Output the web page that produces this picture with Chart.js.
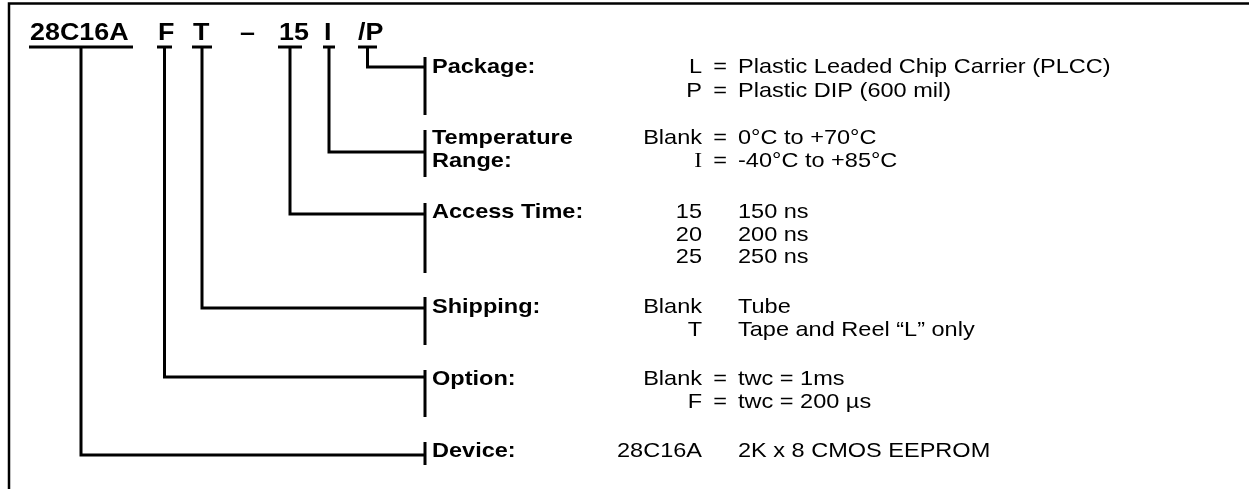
<!DOCTYPE html>
<html>
<head>
<meta charset="utf-8">
<script src="https://cdn.jsdelivr.net/npm/chart.js@4/dist/chart.umd.min.js"></script>
<style>
  html, body { margin: 0; padding: 0; background: #fff; }
  #wrap { width: 1249px; height: 489px; position: relative; }
</style>
</head>
<body>
<div id="wrap"><canvas id="diagram"></canvas></div>
<script>
// part number pieces, left to right
const partCodes = ['28C16A', 'F', 'T', '–', '15', 'I', '/P'];

// fields, top to bottom
const fieldLabels = [['Package:'], ['Temperature', 'Range:'], ['Access Time:'], ['Shipping:'], ['Option:'], ['Device:']];
const fieldCode = ['/P', 'I', '15', 'T', 'F', '28C16A'];

// choices per field
const optionKeys = [['L', 'P'], ['Blank', 'I'], ['15', '20', '25'], ['Blank', 'T'], ['Blank', 'F'], ['28C16A']];
const optionUsesEquals = [true, true, false, false, true, false];
const optionText = [
    ['Plastic Leaded Chip Carrier (PLCC)', 'Plastic DIP (600 mil)'],
    ['0°C to +70°C', '-40°C to +85°C'],
    ['150 ns', '200 ns', '250 ns'],
    ['Tube', 'Tape and Reel “L” only'],
    ['twc = 1ms', 'twc = 200 µs'],
    ['2K x 8 CMOS EEPROM']
];

// ---- layout (diagram units = pixels) ----
const W = 1249, H = 489;
const codeX = { '28C16A': 30, 'F': 158, 'T': 193, '–': 240, '15': 279, 'I': 324, '/P': 358 };
const codeBaseline = 40;
const underline = { '28C16A': [29, 133], 'F': [157, 172], 'T': [192, 212], '15': [278, 302], 'I': [323, 335], '/P': [358, 377] };
const underlineY = 47;
const barX = 425;
const joinY = [67, 152, 214, 308, 377, 455];
const barTop = [57, 130, 203, 297, 370, 442];
const barBottom = [115, 177, 273, 345, 417, 465];
const labelX = 432;
const rowBase = [[73, 97], [144, 167], [218, 241, 263], [313, 336], [385, 408], [457]];
const keyRight = 702, equalsX = 720, textX = 738;
const stretch = 1.12; // original face is a bit wider than Liberation Sans

const lineDs = (pts, w) => ({
    data: pts.map(p => ({ x: p[0], y: p[1] })),
    showLine: true,
    borderColor: '#000',
    borderWidth: w || 3,
    pointRadius: 0,
    borderCapStyle: 'butt',
    borderJoinStyle: 'miter',
    tension: 0
});

const datasets = [];
// frame
datasets.push(lineDs([[9, H], [9, 3.5], [W, 3.5]], 2.5));
// underlines
Object.keys(underline).forEach(k => {
    const u = underline[k];
    datasets.push(lineDs([[u[0], underlineY], [u[1], underlineY]]));
});
// stems + brackets
fieldCode.forEach((code, i) => {
    const u = underline[code];
    const sx = (u[0] + u[1]) / 2;
    datasets.push(lineDs([[sx, underlineY], [sx, joinY[i]], [barX, joinY[i]]]));
    datasets.push(lineDs([[barX, barTop[i]], [barX, barBottom[i]]]));
});

function wideText(c, t, x, y, align) {
    c.save();
    c.translate(x, y);
    c.scale(stretch, 1);
    c.textAlign = align;
    c.fillText(t, 0, 0);
    c.restore();
}

const textPlugin = {
    id: 'texts',
    beforeDraw(chart) {
        const c = chart.ctx;
        c.save();
        c.fillStyle = '#fff';
        c.fillRect(0, 0, chart.width, chart.height);
        c.restore();
    },
    afterDatasetsDraw(chart) {
        const c = chart.ctx;
        const sx = v => chart.scales.x.getPixelForValue(v);
        const sy = v => chart.scales.y.getPixelForValue(v);
        const sans = '"Liberation Sans", Arial, sans-serif';
        c.save();
        c.fillStyle = '#000';
        c.textBaseline = 'alphabetic';

        c.font = 'bold 24px ' + sans;
        partCodes.forEach(p => wideText(c, p, sx(codeX[p]), sy(codeBaseline), 'left'));

        c.font = 'bold 21px ' + sans;
        fieldLabels.forEach((lines, i) => {
            lines.forEach((t, j) => wideText(c, t, sx(labelX), sy(rowBase[i][j]), 'left'));
        });

        optionKeys.forEach((keys, i) => {
            keys.forEach((k, j) => {
                const y = sy(rowBase[i][j]);
                // the "I" temperature key is set in a serif face in the original
                c.font = (i === 1 && k === 'I') ? '21px "Liberation Serif", serif' : '21px ' + sans;
                wideText(c, k, sx(keyRight), y, 'right');
                c.font = '21px ' + sans;
                if (optionUsesEquals[i]) wideText(c, '=', sx(equalsX), y, 'center');
                wideText(c, optionText[i][j], sx(textX), y, 'left');
            });
        });
        c.restore();
    }
};

new Chart(document.getElementById('diagram'), {
    type: 'scatter',
    data: { datasets: datasets },
    options: {
        responsive: true,
        maintainAspectRatio: false,
        animation: false,
        layout: { padding: 0 },
        scales: {
            x: { type: 'linear', min: 0, max: W, display: false },
            y: { type: 'linear', min: 0, max: H, reverse: true, display: false }
        },
        plugins: { legend: { display: false }, tooltip: { enabled: false } }
    },
    plugins: [textPlugin]
});
</script>
</body>
</html>
